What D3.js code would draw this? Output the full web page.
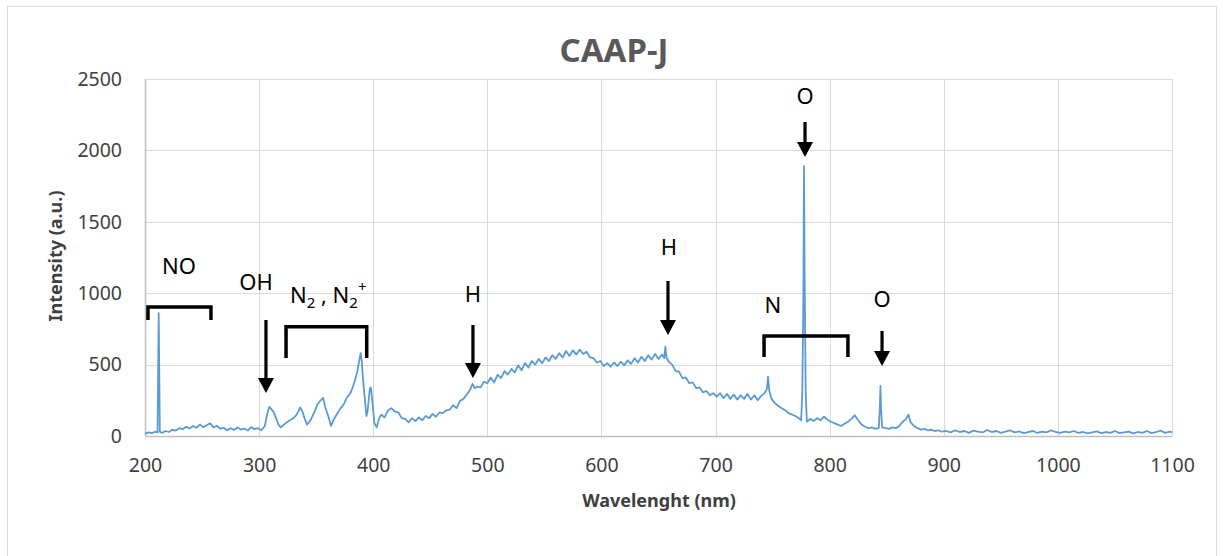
<!DOCTYPE html>
<html>
<head>
<meta charset="utf-8">
<script src="https://d3js.org/d3.v7.min.js"></script>
<style>
  body { margin: 0; background: #fff; }
  svg { font-family: "Noto Sans", sans-serif; }
</style>
</head>
<body>
<div id="chart"></div>
<script>
// spectrum: wavelength (nm) and intensity (a.u.)
var wavelength = [
  200,203,206,209,211,212,213,215,218,221,224,227,230,233,236,239,242,245,248,251,254,257,260,263,266,269,272,275,278,281,284,287,290,293,296,299,302,305,
  307,309,311,313,315,317,319,321,324,327,330,333,336,338,340,342,345,348,351,354,356,358,361,363,365,368,371,374,377,380,382,384,386,388,389,390,391,393,394,395,397,398,400,401,403,405,407,410,413,416,419,422,425,428,431,434,437,440,443,446,449,452,455,458,461,464,467,470,473,476,479,482,485,487,489,491,494,497,500,
  503,506,509,512,515,518,521,524,527,530,533,536,539,542,545,548,551,554,557,560,563,566,569,572,575,578,581,584,587,590,593,596,599,602,605,608,611,614,617,620,623,626,629,632,635,638,641,644,647,650,653,655,656,657,659,662,665,668,671,674,677,680,683,686,689,692,695,698,
  701,704,707,710,713,716,719,722,725,728,731,734,737,740,743,745,746,747,749,752,755,758,761,764,767,770,773,775,776,777,777.5,778,779,780,783,786,789,792,795,798,
  801,804,807,810,813,816,819,822,825,828,831,834,837,840,843,844,844.5,845,846,849,852,855,858,861,864,867,869,871,874,877,880,883,886,889,892,895,898,
  902,906,910,914,918,922,926,930,934,938,942,946,950,954,958,962,966,970,974,978,982,986,990,994,998,
  1002,1006,1010,1014,1018,1022,1026,1030,1034,1038,1042,1046,1050,1054,1058,1062,1066,1070,1074,1078,1082,1086,1090,1094,1098,1100
];
var intensity = [
  15,25,20,30,25,860,30,22,35,28,45,38,55,48,65,52,70,58,80,62,75,90,60,72,50,58,40,55,42,60,45,52,38,62,48,55,40,70,
  150,205,185,165,120,80,60,75,95,110,125,150,200,170,120,80,110,160,220,250,268,200,130,70,110,150,190,220,270,300,340,390,450,540,580,520,400,230,140,170,330,340,
  180,90,60,120,150,130,180,195,170,165,125,120,95,125,105,130,110,140,125,155,135,165,160,180,185,215,195,245,260,290,325,365,335,345,340,380,370,
  410,375,430,405,455,430,470,445,495,460,510,480,525,500,540,510,550,525,565,540,580,550,595,560,600,570,605,575,590,550,
  545,515,525,490,510,485,515,490,520,495,530,505,545,515,555,525,565,535,575,540,570,545,625,550,
  520,500,455,450,405,410,370,375,335,340,305,315,285,300,
  275,300,265,295,260,290,255,285,260,295,255,285,250,280,300,330,415,320,260,230,210,195,180,160,150,140,125,110,300,1000,1890,1200,300,100,120,105,125,110,135,115,
  100,90,80,70,85,100,120,145,110,80,65,55,60,50,55,200,350,200,60,55,50,60,55,70,100,120,150,95,70,55,45,50,40,45,35,40,30,
  35,25,40,28,35,22,38,30,25,42,28,35,22,30,40,25,32,20,28,35,22,30,25,40,28,
  22,30,25,35,22,28,18,25,32,20,28,22,35,20,25,30,18,28,22,35,20,28,38,22,30,25
];
var xTicks = [200, 300, 400, 500, 600, 700, 800, 900, 1000, 1100];
var yTicks = [0, 500, 1000, 1500, 2000, 2500];

// annotations, placed in data units
var labelText = ["NO", "OH", "H", "H", "N", "O", "O"];
var labelAt   = [[229.8, 1134], [297.3, 1022], [487.4, 938], [659.2, 1268], [750.3, 861], [778.4, 2325], [845.9, 905]];
var arrowAt   = [[306, 812, 301], [487.4, 777, 406], [658.3, 1085, 707], [778.4, 2199, 1954], [845.9, 735, 490]];
var bracketAt = [[202.6, 257.8, 903, 812], [323.6, 394.3, 765, 546], [742.5, 816, 700, 553]];

var W = 1223, H = 556;
var margin = {top: 79, right: 51, bottom: 120, left: 145};

var svg = d3.select("#chart").append("svg")
    .attr("width", W)
    .attr("height", H);

// outer frame
svg.append("rect")
    .attr("x", 7.5).attr("y", 6.5)
    .attr("width", 1209).attr("height", 570)
    .attr("fill", "none")
    .attr("stroke", "#d9d9d9");

var x = d3.scaleLinear().domain([200, 1100]).range([margin.left, W - margin.right]);
var y = d3.scaleLinear().domain([0, 2500]).range([H - margin.bottom, margin.top]);

// grid
svg.append("g")
    .selectAll("line.h")
    .data(yTicks.slice(1))
    .enter().append("line")
    .attr("x1", x(200)).attr("x2", x(1100))
    .attr("y1", function(d){ return Math.round(y(d)) + 0.5; })
    .attr("y2", function(d){ return Math.round(y(d)) + 0.5; })
    .attr("stroke", "#d9d9d9");

svg.append("g")
    .selectAll("line.v")
    .data(xTicks.slice(1))
    .enter().append("line")
    .attr("y1", y(0)).attr("y2", y(2500))
    .attr("x1", function(d){ return Math.round(x(d)) + 0.5; })
    .attr("x2", function(d){ return Math.round(x(d)) + 0.5; })
    .attr("stroke", "#d9d9d9");

// axes
var xAxis = svg.append("g")
    .attr("transform", `translate(0, ${y(0)})`)
    .call(d3.axisBottom(x).tickValues(xTicks).tickFormat(d3.format("d")).tickSize(0).tickPadding(22));
xAxis.select(".domain").attr("stroke", "#bfbfbf").attr("stroke-width", 1.5);

var yAxis = svg.append("g")
    .attr("transform", `translate(${x(200)}, 0)`)
    .call(d3.axisLeft(y).tickValues(yTicks).tickFormat(d3.format("d")).tickSize(0).tickPadding(23));
yAxis.select(".domain").attr("stroke", "#bfbfbf").attr("stroke-width", 1.5);

svg.selectAll(".tick text")
    .attr("font-family", "Noto Sans")
    .attr("font-size", 19.5)
    .attr("fill", "#404040");

// spectrum
var points = wavelength.map(function(w, i){ return [w, intensity[i]]; });
var line = d3.line()
    .x(function(d){ return x(d[0]); })
    .y(function(d){ return y(d[1]); });

svg.append("path")
    .datum(points)
    .attr("d", line)
    .attr("fill", "none")
    .attr("stroke", "#5b9bd5")
    .attr("stroke-width", 1.8)
    .attr("stroke-linejoin", "round");

// title + axis titles
svg.append("text")
    .attr("x", 614).attr("y", 62)
    .attr("text-anchor", "middle")
    .attr("font-size", 33)
    .attr("font-weight", "bold")
    .attr("fill", "#595959")
    .text("CAAP-J");

svg.append("text")
    .attr("x", 659).attr("y", 507)
    .attr("text-anchor", "middle")
    .attr("font-size", 18)
    .attr("font-weight", "bold")
    .attr("fill", "#404040")
    .text("Wavelenght (nm)");

svg.append("text")
    .attr("transform", "translate(62, 256) rotate(-90)")
    .attr("text-anchor", "middle")
    .attr("font-size", 18)
    .attr("font-weight", "bold")
    .attr("fill", "#404040")
    .text("Intensity (a.u.)");

// annotations
var ann = svg.append("g");

ann.selectAll("text.lab")
    .data(labelText)
    .enter().append("text")
    .attr("x", function(d, i){ return x(labelAt[i][0]); })
    .attr("y", function(d, i){ return y(labelAt[i][1]); })
    .attr("text-anchor", "middle")
    .attr("font-size", 22)
    .attr("fill", "#000")
    .text(function(d){ return d; });

// N2 , N2+ label
var n2 = ann.append("text")
    .attr("x", x(327)).attr("y", y(929))
    .attr("font-size", 22)
    .attr("fill", "#000");
n2.append("tspan").text("N");
n2.append("tspan").attr("font-size", 15).attr("dy", 5).text("2");
n2.append("tspan").attr("dy", -5).text(" , N");
n2.append("tspan").attr("font-size", 15).attr("dy", 5).text("2");
n2.append("tspan").attr("font-size", 15).attr("dx", 0).attr("dy", -16).text("+");

ann.selectAll("path.arrow")
    .data(arrowAt)
    .enter().append("path")
    .attr("d", function(d){
        var ax = x(d[0]), y0 = y(d[1]), y1 = y(d[2]);
        return "M" + (ax - 1.6) + "," + y0 + "V" + (y1 - 15) + "H" + (ax - 8) +
               "L" + ax + "," + y1 + "L" + (ax + 8) + "," + (y1 - 15) +
               "H" + (ax + 1.6) + "V" + y0 + "Z";
    })
    .attr("fill", "#000");

ann.selectAll("path.bracket")
    .data(bracketAt)
    .enter().append("path")
    .attr("d", function(d){
        return "M" + x(d[0]) + "," + y(d[3]) + "V" + y(d[2]) +
               "H" + x(d[1]) + "V" + y(d[3]);
    })
    .attr("fill", "none")
    .attr("stroke", "#000")
    .attr("stroke-width", 3.5);
</script>
</body>
</html>
